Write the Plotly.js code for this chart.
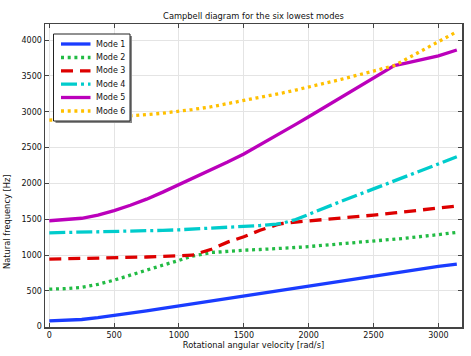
<!DOCTYPE html>
<html><head><meta charset="utf-8">
<script src="https://cdn.plot.ly/plotly-3.0.1.min.js"></script>
<style>html,body{margin:0;padding:0;background:#fff}#chart{width:471px;height:356px}</style>
</head><body><div id="chart"></div>
<script>
// Rotational angular velocity [rad/s]
const omega = [0, 125, 250, 375, 500, 625, 750, 875, 1000, 1100, 1250, 1375, 1500, 1625, 1750, 1800, 1900, 2000, 2250, 2500, 2660, 2750, 3000, 3142];
// Natural frequencies [Hz]
const mode1 = [80, 85, 100, 126, 155, 187, 220, 255, 290, 318, 358, 394, 430, 463, 497, 510, 538, 565, 635, 705, 750, 775, 840, 873];
const mode2 = [524, 530, 549, 590, 649, 715, 787, 858, 925, 985, 1035, 1055, 1067, 1077, 1085, 1090, 1105, 1118, 1157, 1195, 1220, 1235, 1285, 1316];
const mode3 = [943, 946, 950, 953, 957, 965, 972, 980, 988, 997, 1080, 1180, 1255, 1345, 1420, 1440, 1460, 1475, 1515, 1557, 1588, 1605, 1650, 1683];
const mode4 = [1310, 1314, 1318, 1321, 1324, 1330, 1336, 1344, 1352, 1360, 1372, 1383, 1394, 1412, 1432, 1445, 1495, 1570, 1749, 1923, 2035, 2098, 2272, 2371];
const mode5 = [1478, 1490, 1513, 1558, 1620, 1695, 1780, 1878, 1980, 2063, 2190, 2298, 2410, 2535, 2665, 2718, 2823, 2930, 3205, 3480, 3645, 3680, 3780, 3862];
const mode6 = [2884, 2887, 2895, 2907, 2922, 2940, 2960, 2980, 3002, 3030, 3070, 3112, 3157, 3200, 3245, 3263, 3303, 3343, 3452, 3568, 3645, 3733, 3978, 4117];
const names = ['Mode 1', 'Mode 2', 'Mode 3', 'Mode 4', 'Mode 5', 'Mode 6'];
const series = [mode1, mode2, mode3, mode4, mode5, mode6];
const xTicks = [0, 500, 1000, 1500, 2000, 2500, 3000];
const yTicks = [0, 500, 1000, 1500, 2000, 2500, 3000, 3500, 4000];

const colors = ['#1a3cff', '#22bb44', '#dd0000', '#00cccc', '#bb00bb', '#ffc000'];
const dashes = ['solid', '3px,3.7px', '12px,7px', '16px,4px,3px,4px', 'solid', '3px,3.7px'];
const LW = 3.3;
const FONT = 'DejaVu Sans';
const W = 471, H = 356, ML = 45, MR = 9, MT = 24, MB = 29;
const PW = W - ML - MR, PH = H - MT - MB;
const px = x => (x - ML) / PW;          // pixel -> paper x
const py = y => (H - MB - y) / PH;      // pixel -> paper y

const traces = series.map((y, i) => ({
  x: omega, y: y, name: names[i], type: 'scatter', mode: 'lines', showlegend: false,
  line: {color: colors[i], width: LW, dash: dashes[i]}
}));

// Legend drawn as a boxed key (layout only)
const shapes = [
  {type: 'rect', xref: 'paper', yref: 'paper', x0: px(55.5), x1: px(132), y0: py(123), y1: py(36),
   line: {width: 0}, fillcolor: '#888', layer: 'above'},
  {type: 'rect', xref: 'paper', yref: 'paper', x0: px(53.5), x1: px(130), y0: py(121), y1: py(34),
   line: {color: '#222', width: 1}, fillcolor: '#fff', layer: 'above'}
];
const annotations = [];
const rowY = [44, 57.5, 70.8, 84.2, 97.5, 111];
names.forEach((n, i) => {
  shapes.push({type: 'line', xref: 'paper', yref: 'paper', x0: px(61), x1: px(90.5), y0: py(rowY[i]), y1: py(rowY[i]),
    line: {color: colors[i], width: LW, dash: dashes[i]}, layer: 'above'});
  annotations.push({xref: 'paper', yref: 'paper', x: px(93.5), y: py(rowY[i]), xanchor: 'left', yanchor: 'middle',
    text: n, showarrow: false, font: {family: FONT, size: 8, color: '#111'}});
});
annotations.push({xref: 'paper', yref: 'paper', x: px(7), y: py(222), xanchor: 'center', yanchor: 'middle',
  text: 'Natural frequency [Hz]', textangle: -90, showarrow: false, font: {family: FONT, size: 8.3, color: '#111'}});

const axisCommon = {
  showline: true, linecolor: '#444', linewidth: 1.5, mirror: 'ticks',
  ticks: 'inside', ticklen: 4, tickcolor: '#444', tickwidth: 1,
  showgrid: true, gridcolor: '#e4e4e4', zeroline: false,
  tickfont: {family: FONT, size: 8, color: '#111'}
};

Plotly.newPlot('chart', traces, {
  width: W, height: H,
  margin: {l: ML, r: MR, t: MT, b: MB},
  paper_bgcolor: '#fff', plot_bgcolor: '#fff',
  font: {family: FONT, size: 8, color: '#111'},
  title: {text: 'Campbell diagram for the six lowest modes', xref: 'paper', x: 0.5, xanchor: 'center', y: 1 - 16 / H, yanchor: 'middle',
    font: {family: FONT, size: 8.3, color: '#111'}},
  xaxis: Object.assign({}, axisCommon, {range: [-33, 3182], tickvals: xTicks,
    title: {text: 'Rotational angular velocity [rad/s]', standoff: 0, font: {family: FONT, size: 8.3, color: '#111'}}}),
  yaxis: Object.assign({}, axisCommon, {range: [-5, 4225], tickvals: yTicks}),
  shapes: shapes,
  annotations: annotations,
  showlegend: false
}, {displayModeBar: false, staticPlot: true});
</script></body></html>
